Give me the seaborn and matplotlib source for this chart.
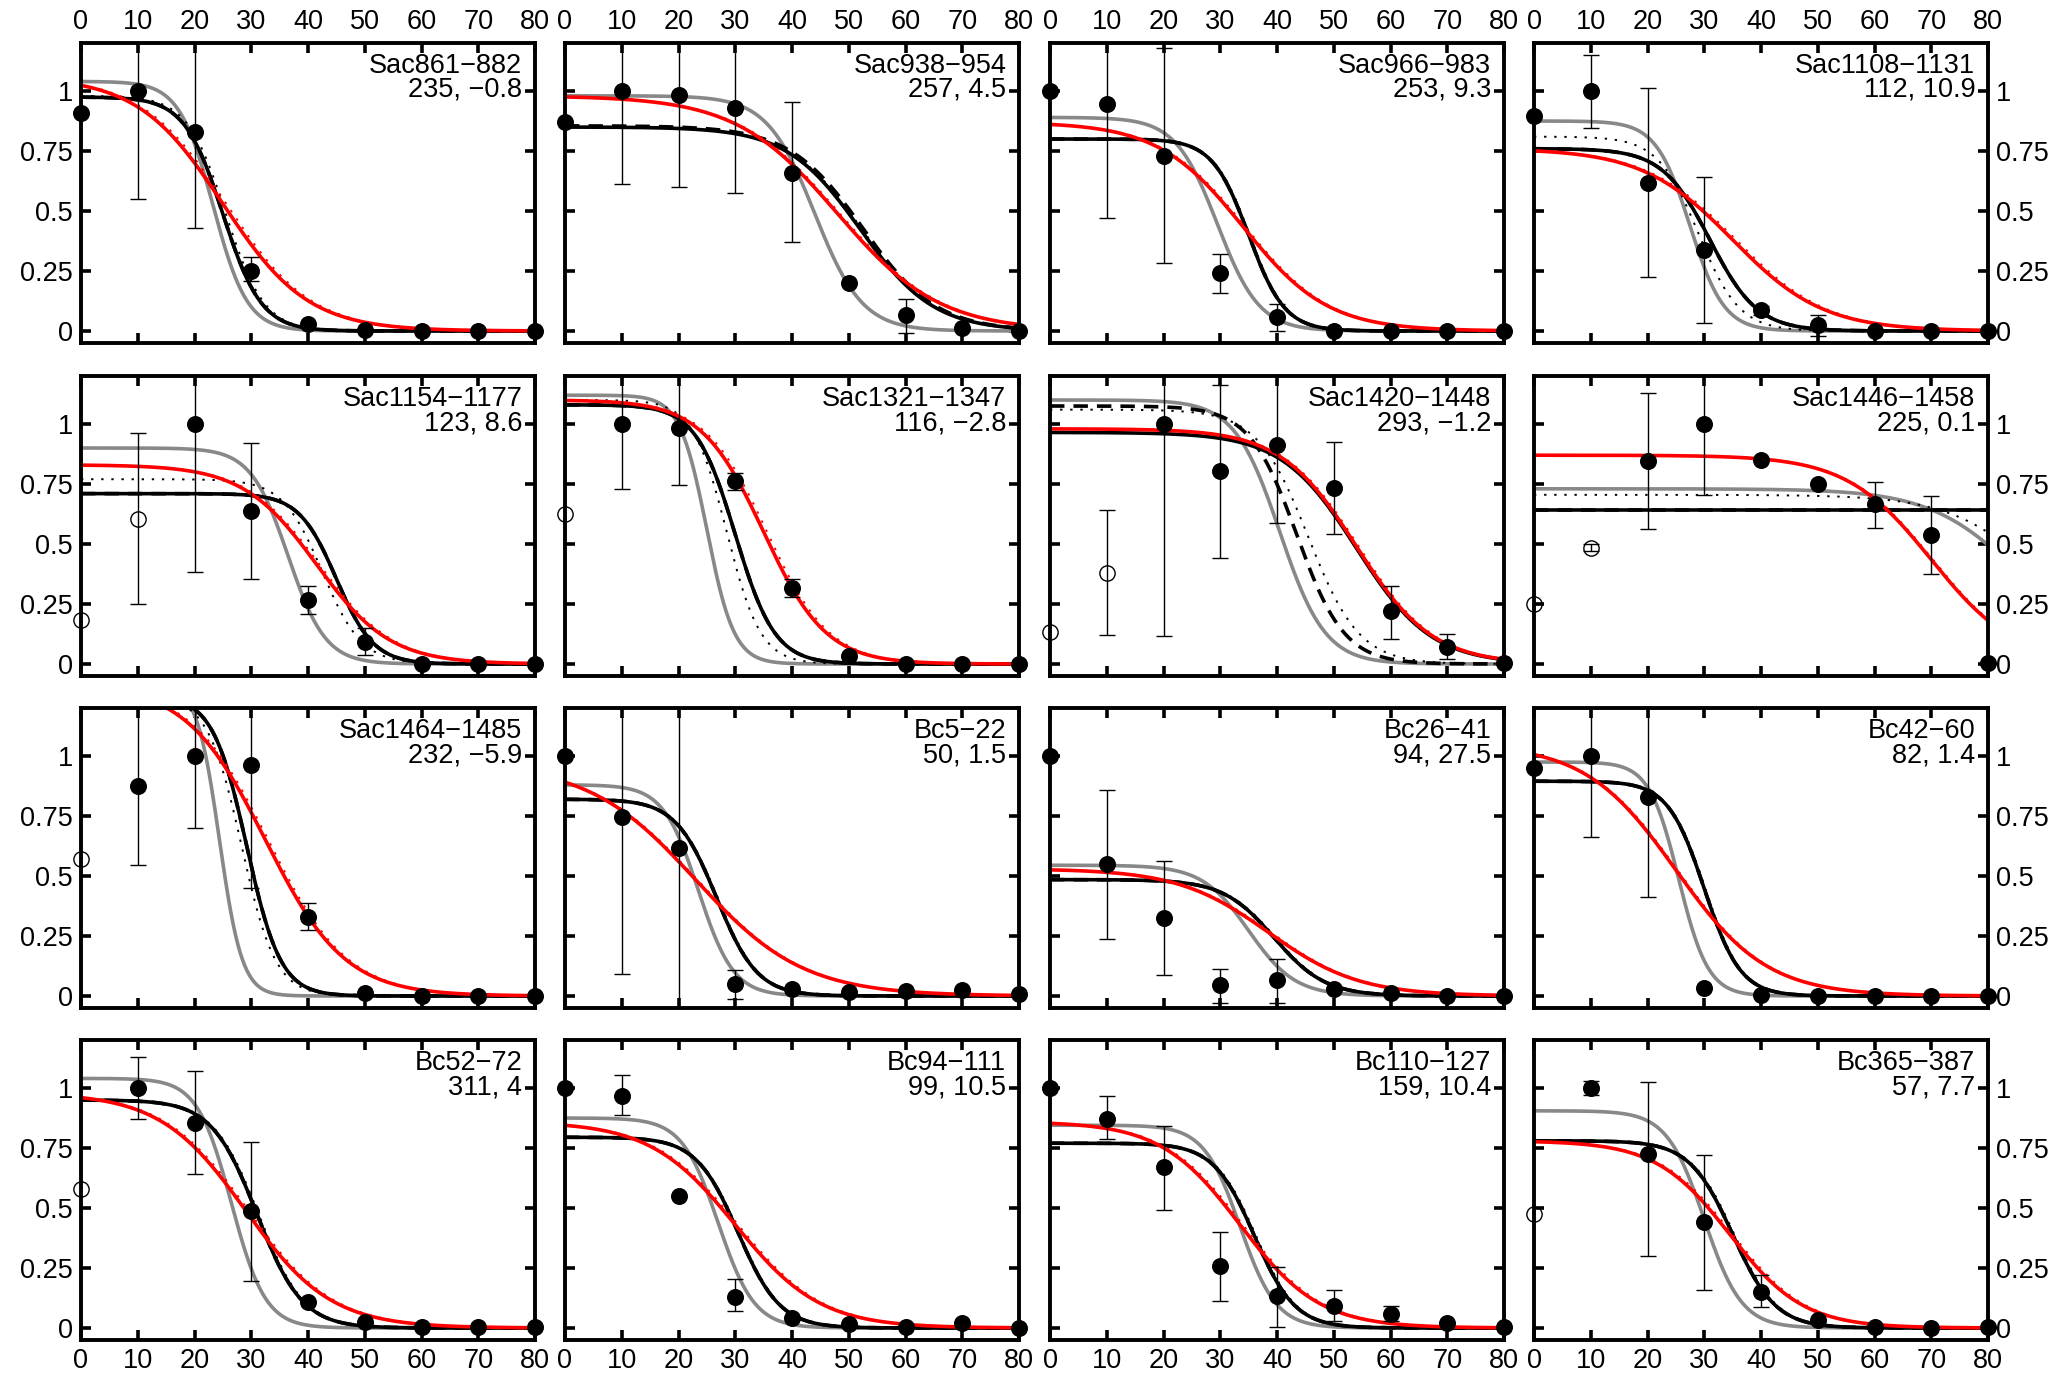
import numpy as np
import pandas as pd
import matplotlib
matplotlib.use("Agg")
import matplotlib.pyplot as plt
import seaborn as sns

# ---------------- data ----------------
x_levels = [0, 10, 20, 30, 40, 50, 60, 70, 80]
x_ticks = [0, 10, 20, 30, 40, 50, 60, 70, 80]
y_ticks = [0, 0.25, 0.5, 0.75, 1]
y_tick_labels = ["0", "0.25", "0.5", "0.75", "1"]

panel_names = ["Sac861\u2212882", "Sac938\u2212954", "Sac966\u2212983", "Sac1108\u22121131",
               "Sac1154\u22121177", "Sac1321\u22121347", "Sac1420\u22121448", "Sac1446\u22121458",
               "Sac1464\u22121485", "Bc5\u221222", "Bc26\u221241", "Bc42\u221260",
               "Bc52\u221272", "Bc94\u2212111", "Bc110\u2212127", "Bc365\u2212387"]
panel_stats = ["235, \u22120.8", "257, 4.5", "253, 9.3", "112, 10.9",
               "123, 8.6", "116, \u22122.8", "293, \u22121.2", "225, 0.1",
               "232, \u22125.9", "50, 1.5", "94, 27.5", "82, 1.4",
               "311, 4", "99, 10.5", "159, 10.4", "57, 7.7"]

N = None
filled_y = [
    [0.91, 1.0, 0.83, 0.25, 0.03, 0.005, 0.0, 0.0, 0.0],
    [0.87, 1.0, 0.985, 0.93, 0.66, 0.20, 0.066, 0.011, 0.0],
    [1.0, 0.945, 0.73, 0.24, 0.059, 0.0, 0.0, 0.0, 0.0],
    [0.897, 1.0, 0.618, 0.338, 0.087, 0.025, 0.0, 0.0, 0.0],
    [N, N, 1.0, 0.637, 0.268, 0.092, 0.0, 0.0, 0.0],
    [N, 1.0, 0.982, 0.761, 0.316, 0.034, 0.0, 0.0, 0.0],
    [N, N, 1.0, 0.803, 0.913, 0.734, 0.219, 0.069, 0.003],
    [N, N, 0.844, 1.0, 0.848, 0.752, 0.665, 0.538, 0.003],
    [N, 0.876, 1.0, 0.961, 0.331, 0.014, 0.0, 0.0, 0.0],
    [1.0, 0.745, 0.617, 0.048, 0.028, 0.017, 0.02, 0.025, 0.007],
    [1.0, 0.549, 0.324, 0.044, 0.065, 0.03, 0.011, 0.0, 0.0],
    [0.952, 1.0, 0.828, 0.034, 0.003, 0.0, 0.0, 0.0, 0.0],
    [N, 1.0, 0.854, 0.486, 0.108, 0.027, 0.005, 0.005, 0.005],
    [1.0, 0.968, 0.551, 0.130, 0.043, 0.016, 0.005, 0.02, 0.0],
    [1.0, 0.87, 0.670, 0.259, 0.135, 0.092, 0.059, 0.022, 0.005],
    [N, 1.0, 0.724, 0.443, 0.151, 0.032, 0.005, 0.0, 0.005],
]
err_lo = [
    [N, 0.55, 0.43, 0.21, N, N, N, N, N],
    [N, 0.614, 0.60, 0.577, 0.37, N, -0.01, N, N],
    [N, 0.47, 0.284, 0.159, 0.0, N, N, N, N],
    [N, 0.846, 0.225, 0.032, 0.065, -0.02, N, N, N],
    [N, N, 0.382, 0.355, 0.207, 0.037, N, N, N],
    [N, 0.731, 0.745, 0.727, 0.279, N, N, N, N],
    [N, N, 0.116, 0.44, 0.589, 0.543, 0.106, 0.02, N],
    [N, N, 0.564, 0.706, N, N, 0.568, 0.375, N],
    [N, 0.545, 0.699, 0.448, 0.276, N, N, N, N],
    [N, 0.09, -0.1, -0.011, N, N, N, N, N],
    [N, 0.237, 0.086, -0.028, -0.028, N, N, N, N],
    [N, 0.662, 0.414, N, N, N, N, N, N],
    [N, 0.87, 0.643, 0.195, N, N, N, N, N],
    [N, 0.886, N, 0.07, N, N, N, N, N],
    [N, 0.789, 0.492, 0.114, 0.005, 0.03, 0.03, N, N],
    [N, 0.97, 0.30, 0.157, 0.086, N, N, N, N],
]
err_hi = [
    [N, 1.45, 1.3, 0.31, N, N, N, N, N],
    [N, 1.3, 1.3, 1.3, 0.953, N, 0.135, N, N],
    [N, 1.3, 1.18, 0.32, 0.114, N, N, N, N],
    [N, 1.152, 1.014, 0.643, 0.105, 0.066, N, N, N],
    [N, N, 1.3, 0.92, 0.327, 0.148, N, N, N],
    [N, 1.3, 1.3, 0.797, 0.354, N, N, N, N],
    [N, N, 1.3, 1.164, 1.3, 0.923, 0.327, 0.124, N],
    [N, N, 1.131, 1.3, N, N, 0.759, 0.702, N],
    [N, 1.3, 1.3, 1.3, 0.389, N, N, N, N],
    [N, 1.3, 1.3, 0.108, N, N, N, N, N],
    [N, 0.858, 0.561, 0.113, 0.156, N, N, N, N],
    [N, 1.3, 1.3, N, N, N, N, N, N],
    [N, 1.13, 1.07, 0.773, N, N, N, N, N],
    [N, 1.054, N, 0.205, N, N, N, N, N],
    [N, 0.968, 0.843, 0.40, 0.254, 0.157, 0.092, N, N],
    [N, 1.03, 1.027, 0.719, 0.222, N, N, N, N],
]

# open circles (x, y, lower, upper)
open_x = [[], [], [], [], [0, 10], [0], [0, 10], [0, 10], [0], [], [], [], [0], [], [], [0]]
open_y = [[], [], [], [], [0.185, 0.606], [0.623], [0.134, 0.381], [0.251, 0.483], [0.57],
          [], [], [], [0.578], [], [], [0.476]]
open_lo = [[], [], [], [], [N, 0.251], [N], [N, 0.119], [0.249, 0.47], [N], [], [], [], [N], [], [], [N]]
open_hi = [[], [], [], [], [N, 0.961], [N], [N, 0.641], [0.253, 0.50], [N], [], [], [], [N], [], [], [N]]

# fitted curves: plateau, midpoint, width
gray_top = [1.04, 0.98, 0.89, 0.875, 0.90, 1.12, 1.10, 0.73, 1.30, 0.88, 0.545, 0.975, 1.04, 0.875, 0.845, 0.905]
gray_mid = [23.3, 44, 29.5, 27.5, 36.5, 25, 40.5, 86, 24.4, 23.5, 35, 25.5, 26.5, 27, 33.5, 30]
gray_wid = [3.0, 4.2, 3.7, 3.0, 3.3, 2.4, 4.0, 8, 2.0, 3.1, 4.1, 2.6, 3.0, 3.2, 3.2, 3.3]

black_top = [0.975, 0.85, 0.80, 0.76, 0.71, 1.08, 0.965, 0.64, 1.25, 0.82, 0.485, 0.895, 0.95, 0.795, 0.77, 0.78]
black_mid = [25.0, 52, 35, 31, 45, 30, 54, 400, 29.2, 26.7, 39.5, 30, 31, 30.5, 36, 35]
black_wid = [3.4, 6.5, 3.2, 4.2, 3.3, 3.5, 6.6, 10, 3.0, 3.6, 4.5, 3.2, 4.0, 3.7, 3.6, 3.8]

dash_top = [0.975, 0.855, 0.80, 0.76, 0.71, 1.08, 1.075, 0.64, 1.25, 0.82, 0.485, 0.895, 0.95, 0.795, 0.77, 0.78]
dash_mid = [25.0, 52.5, 35, 31, 45, 30, 43.5, 400, 29.2, 26.7, 39.5, 30, 31, 30.5, 36, 35]
dash_wid = [3.4, 6.5, 3.2, 4.2, 3.3, 3.5, 4.2, 10, 3.0, 3.6, 4.5, 3.2, 4.0, 3.7, 3.6, 3.8]

dot_top = [0.98, 0.85, 0.80, 0.81, 0.77, 1.10, 1.06, 0.705, 1.25, 0.82, 0.485, 0.895, 0.95, 0.795, 0.77, 0.78]
dot_mid = [25.5, 52.3, 35.2, 29, 42.5, 28.5, 45.5, 90, 28.3, 26.9, 39.8, 30.2, 31.3, 30.7, 36.3, 35.3]
dot_wid = [3.4, 6.5, 3.2, 3.6, 3.5, 3.0, 4.5, 8, 3.0, 3.6, 4.5, 3.2, 4.0, 3.7, 3.6, 3.8]

red_top = [1.06, 0.98, 0.87, 0.76, 0.83, 1.10, 0.98, 0.87, 1.30, 0.97, 0.53, 1.05, 0.98, 0.86, 0.86, 0.78]
red_mid = [25, 48, 34, 35, 41.5, 35, 54, 70, 32.5, 23, 38.5, 25, 29, 30, 33.5, 34.5]
red_wid = [7.5, 9, 7.5, 8, 6.5, 5.5, 6.7, 7.5, 7, 9.5, 8, 8, 7.5, 7.5, 7, 6.5]

reddot_top = [1.06, 0.98, 0.87, 0.76, 0.83, 1.10, 0.98, 0.87, 1.30, 0.97, 0.53, 1.05, 0.98, 0.86, 0.86, 0.78]
reddot_mid = [25.6, 48.4, 34.4, 35.6, 42.0, 35.6, 54.4, 70.3, 33.0, 23.3, 38.9, 25.3, 29.5, 30.5, 34.0, 35.0]
reddot_wid = [7.5, 9, 7.5, 8, 6.5, 5.5, 6.7, 7.5, 7, 9.5, 8, 8, 7.5, 7.5, 7, 6.5]

# ---------------- style ----------------
sns.set_theme(style="white")
plt.rcParams['font.family'] = ['Liberation Sans', 'DejaVu Sans']
plt.rcParams['axes.edgecolor'] = 'black'
plt.rcParams['xtick.color'] = 'black'
plt.rcParams['ytick.color'] = 'black'

W, H = 2053, 1382
fig = plt.figure(figsize=(W / 100, H / 100), dpi=100)
fig.patch.set_facecolor('white')

lefts_px = [81, 565, 1050, 1534]
tops_px = [43, 376, 708, 1040]
aw_px, ah_px = 454, 300

xgrid = np.linspace(0, 80, 401)
FS = 19.5


def curve(top, mid, wid):
    return top / (1.0 + np.exp((xgrid - mid) / wid))


for i in range(16):
    r, c = divmod(i, 4)
    ax = fig.add_axes([lefts_px[c] / W, 1 - (tops_px[r] + ah_px) / H, aw_px / W, ah_px / H])

    # curves
    specs = [
        (gray_top, gray_mid, gray_wid, dict(color='#888888', lw=2.6, linestyle='-')),
        (dash_top, dash_mid, dash_wid, dict(color='black', lw=2.6, linestyle=(0, (4, 2.5)))),
        (dot_top, dot_mid, dot_wid, dict(color='black', lw=1.4, linestyle=(0, (1.2, 4.0)))),
        (black_top, black_mid, black_wid, dict(color='black', lw=2.6, linestyle='-')),
        (reddot_top, reddot_mid, reddot_wid, dict(color='red', lw=1.4, linestyle=(0, (1.2, 4.0)))),
        (red_top, red_mid, red_wid, dict(color='red', lw=2.6, linestyle='-')),
    ]
    for tops, mids, wids, kw in specs:
        yy = curve(tops[i], mids[i], wids[i])
        sns.lineplot(x=xgrid, y=yy, ax=ax, sort=False, estimator=None, **kw)

    # error bars (filled)
    for xv, yv, lo, hi in zip(x_levels, filled_y[i], err_lo[i], err_hi[i]):
        if yv is None or lo is None:
            continue
        ax.errorbar([xv], [yv], yerr=[[yv - lo], [hi - yv]], fmt='none', ecolor='black',
                    elinewidth=1.0, capsize=6, capthick=1.0, zorder=4)
    # error bars (open)
    for xv, yv, lo, hi in zip(open_x[i], open_y[i], open_lo[i], open_hi[i]):
        if lo is None:
            continue
        ax.errorbar([xv], [yv], yerr=[[yv - lo], [hi - yv]], fmt='none', ecolor='black',
                    elinewidth=1.0, capsize=6, capthick=1.0, zorder=4)

    # filled points
    fx = [xv for xv, yv in zip(x_levels, filled_y[i]) if yv is not None]
    fy = [yv for yv in filled_y[i] if yv is not None]
    sns.scatterplot(x=fx, y=fy, ax=ax, s=150, color='black', edgecolor='black',
                    linewidth=0, zorder=6, clip_on=False, legend=False)
    # open points
    if open_x[i]:
        ax.plot(open_x[i], open_y[i], linestyle='none', marker='o', markersize=11,
                markerfacecolor='none', markeredgecolor='black', markeredgewidth=1.0,
                zorder=6, clip_on=False)

    ax.set_xlim(0, 80)
    ax.set_ylim(-0.05, 1.2)
    ax.set_xticks(x_ticks)
    ax.set_xticklabels([str(t) for t in x_ticks])
    ax.set_yticks(y_ticks)
    ax.set_yticklabels(y_tick_labels)
    ax.set_xlabel('')
    ax.set_ylabel('')
    for sp in ax.spines.values():
        sp.set_linewidth(2.8)
        sp.set_color('black')
    ax.tick_params(axis='both', which='major', direction='in', length=7, width=2.6,
                   top=True, bottom=True, left=True, right=True,
                   labelsize=FS, pad=6,
                   labeltop=(r == 0), labelbottom=(r == 3),
                   labelleft=(c == 0), labelright=(c == 3))
    ax.set_facecolor('white')

    ax.text(0.972, 0.968, panel_names[i] + "\n" + panel_stats[i], transform=ax.transAxes,
            ha='right', va='top', fontsize=FS, linespacing=0.92, color='black', zorder=7)

fig.savefig("out.png", dpi=100, facecolor='white')
